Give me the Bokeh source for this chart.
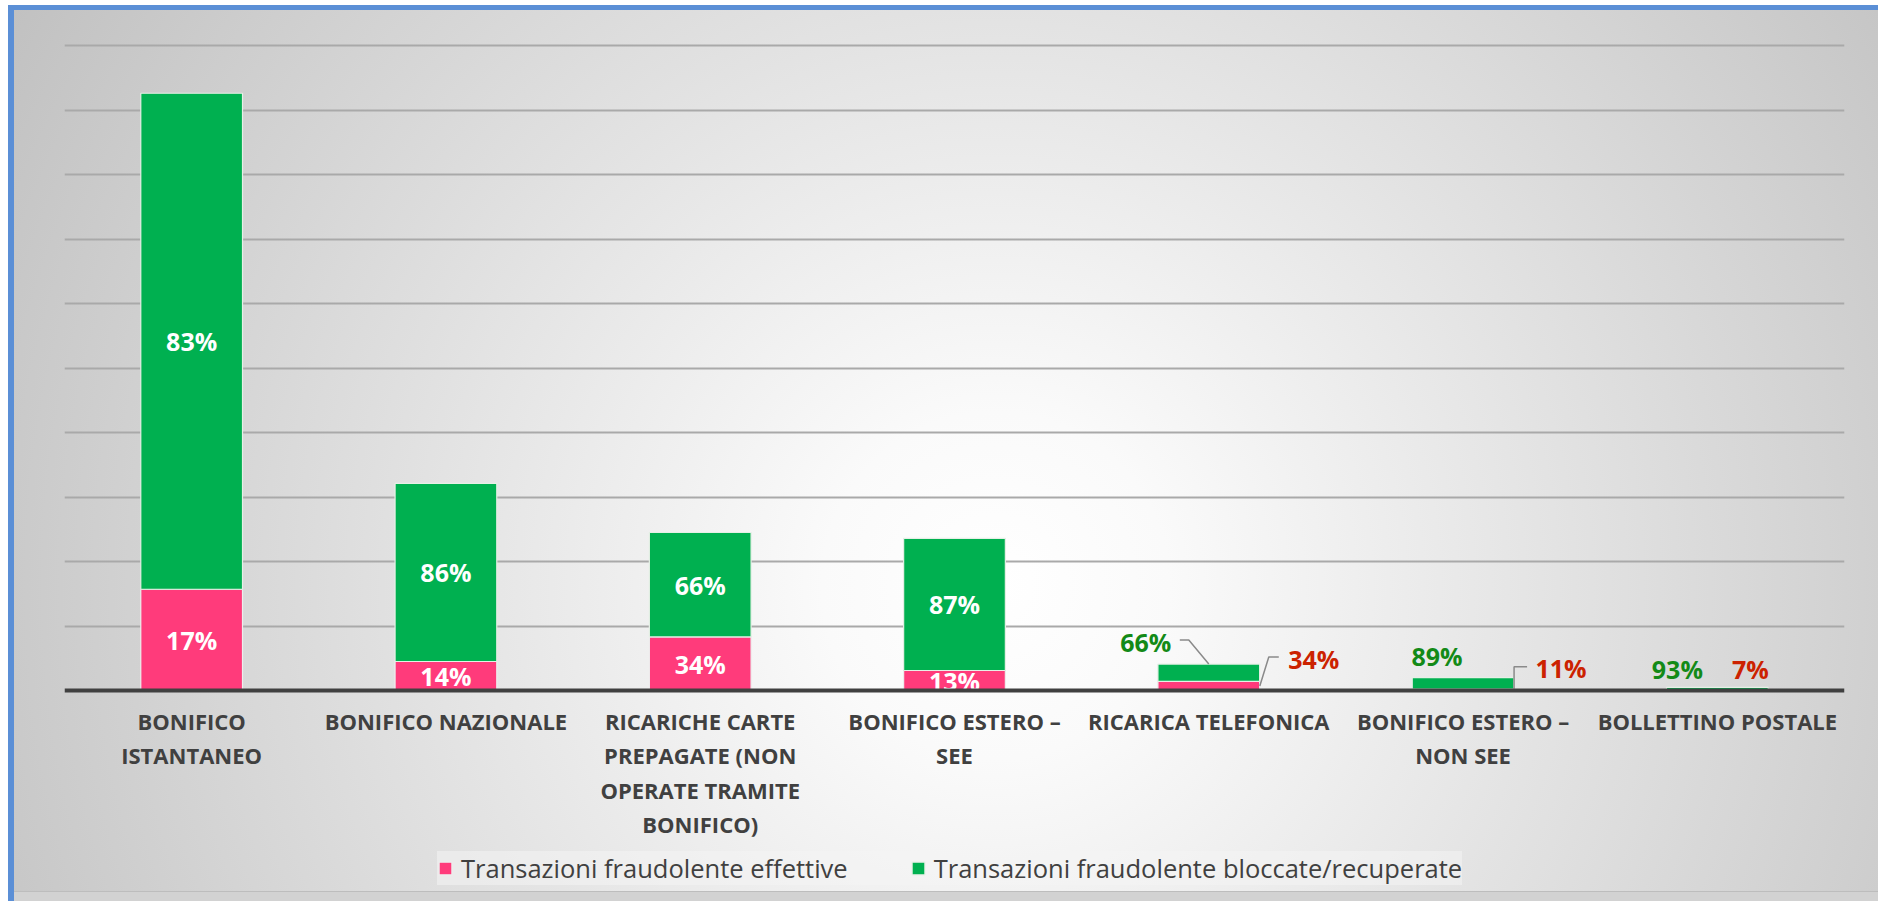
from bokeh.plotting import figure
from bokeh.models import FixedTicker, Legend, LegendItem, Span
from bokeh.core.properties import value
from bokeh.embed import file_html
from bokeh.resources import INLINE

# ---------------- data ----------------
categories = [
    "BONIFICO ISTANTANEO",
    "BONIFICO NAZIONALE",
    "RICARICHE CARTE PREPAGATE (NON OPERATE TRAMITE BONIFICO)",
    "BONIFICO ESTERO – SEE",
    "RICARICA TELEFONICA",
    "BONIFICO ESTERO – NON SEE",
    "BOLLETTINO POSTALE",
]
category_labels = [
    "BONIFICO\nISTANTANEO",
    "BONIFICO NAZIONALE",
    "RICARICHE CARTE\nPREPAGATE (NON\nOPERATE TRAMITE\nBONIFICO)",
    "BONIFICO ESTERO –\nSEE",
    "RICARICA TELEFONICA",
    "BONIFICO ESTERO –\nNON SEE",
    "BOLLETTINO POSTALE",
]
effettive = [1.57, 0.45, 0.83, 0.31, 0.14, 0.022, 0.0035]
bloccate = [7.69, 2.76, 1.62, 2.05, 0.27, 0.178, 0.0465]
pct_effettive = [17, 14, 34, 13, 34, 11, 7]
pct_bloccate = [83, 86, 66, 87, 66, 89, 93]
series_names = ["Transazioni fraudolente effettive",
                "Transazioni fraudolente bloccate/recuperate"]

# ---------------- style ----------------
PINK = "#ff3b7b"
GREEN = "#00b050"
LBL_GREEN = "#138a17"
LBL_RED = "#cc2200"
FONT = "Open Sans"

W, H = 1878, 901
GRID_PX = 64.5                 # pixels per y unit
TOP_PAD = 3                    # pixels above the top gridline inside the frame
BL, BR, BT, BB = 64, 34, 45 - TOP_PAD, 8
FRAME_W = W - BL - BR          # 1780
FRAME_H = H - BT - BB
n = len(categories)
YMAX = 10
Y_END = YMAX + TOP_PAD / GRID_PX
YMIN = Y_END - FRAME_H / GRID_PX
px_x = n / FRAME_W             # data units per pixel (x)
px_y = 1.0 / GRID_PX           # data units per pixel (y)

# labels placed outside the bar (small bars) + pixel offsets
outside = [False, False, False, False, True, True, True]
green_off = {4: (-63, -22), 5: (-26, -22), 6: (-40, -18)}
red_off = {4: (105, -27), 5: (98, -22), 6: (33, -21)}
green_leader = {4: [(-29, -24), (-20, -24), (0, 0)]}
red_leader = {4: [(70, -29), (60, -29), (51, 0)],
              5: [(64, -23), (51, -23), (51, -1)]}

xs = [i + 0.5 for i in range(n)]
totals = [a + b for a, b in zip(effettive, bloccate)]

p = figure(width=W, height=H, output_backend="svg", toolbar_location=None,
           x_range=(0, n), y_range=(YMIN, Y_END),
           min_border_left=BL, min_border_right=BR,
           min_border_top=BT, min_border_bottom=BB)
p.background_fill_color = None
p.border_fill_color = None
p.outline_line_color = None
p.styles = {
    "background": "radial-gradient(circle farthest-corner at 53% 65%, #ffffff 0%, #fafafa 15%, #c0c0c0 100%)",
    "box-shadow": "inset 8px 5px 0 0 #ffffff, inset 14px 10px 0 0 #5b8fd6, inset 0 -9px 0 0 #d2d2d2, inset 0 -10px 0 0 #bdbdbd",
}

# grid (value axis hidden, as in the original)
p.yaxis.visible = False
p.xaxis.visible = False
p.ygrid.ticker = FixedTicker(ticks=list(range(1, YMAX + 1)))
p.ygrid.grid_line_color = "#a9a9a9"
p.ygrid.grid_line_width = 2
p.xgrid.visible = False

# bars
r_eff = p.vbar(x=xs, bottom=0, top=effettive, width=0.4,
               fill_color=PINK, line_color="#eeeeee", line_width=1.2)
r_blo = p.vbar(x=xs, bottom=effettive, top=totals, width=0.4,
               fill_color=GREEN, line_color="#e6f0e6", line_width=1.2)

# category labels under the baseline
p.text(x=xs, y=[0] * n, text=category_labels, y_offset=15,
       text_align="center", text_baseline="top", text_line_height=1.15,
       text_font=value(FONT), text_font_style="bold", text_font_size="22px",
       text_color="#404040")

# data labels
tx, ty, tt, tc, ox, oy = [], [], [], [], [], []
for i in range(n):
    if not outside[i]:
        tx += [xs[i], xs[i]]
        ty += [effettive[i] / 2, effettive[i] + bloccate[i] / 2]
        tt += [f"{pct_effettive[i]}%", f"{pct_bloccate[i]}%"]
        tc += ["white", "white"]
        ox += [0, 0]
        oy += [0, 0]
    else:
        gx, gy = green_off[i]
        rx, ry = red_off[i]
        tx += [xs[i], xs[i]]
        ty += [totals[i], effettive[i] / 2]
        tt += [f"{pct_bloccate[i]}%", f"{pct_effettive[i]}%"]
        tc += [LBL_GREEN, LBL_RED]
        ox += [gx, rx]
        oy += [gy, ry]

p.text(x=tx, y=ty, text=tt, text_color=tc, x_offset=ox, y_offset=oy,
       text_align="center", text_baseline="middle",
       text_font=value(FONT), text_font_style="bold", text_font_size="25px")

# leader lines
lx, ly = [], []
for i, pts in green_leader.items():
    lx.append([xs[i] + dx * px_x for dx, dy in pts])
    ly.append([totals[i] - dy * px_y for dx, dy in pts])
for i, pts in red_leader.items():
    lx.append([xs[i] + dx * px_x for dx, dy in pts])
    ly.append([effettive[i] / 2 - dy * px_y for dx, dy in pts])
p.multi_line(xs=lx, ys=ly, line_color="#8a8a8a", line_width=1.5)

# baseline
p.add_layout(Span(location=0, dimension="width", line_color="#404040", line_width=4))

# legend
legend = Legend(items=[LegendItem(label=series_names[0], renderers=[r_eff]),
                       LegendItem(label=series_names[1], renderers=[r_blo])],
                orientation="horizontal", location=(373, 8))
legend.label_text_font = FONT
legend.label_text_font_size = "25.5px"
legend.label_text_color = "#404040"
legend.label_height = 26
legend.glyph_width = 16
legend.glyph_height = 16
legend.label_standoff = 8
legend.spacing = 62
legend.padding = 8
legend.margin = 0
legend.background_fill_color = "#f4f4f4"
legend.background_fill_alpha = 0.55
legend.border_line_color = None
p.add_layout(legend, "center")

open("out.html", "w").write(file_html(p, INLINE))
